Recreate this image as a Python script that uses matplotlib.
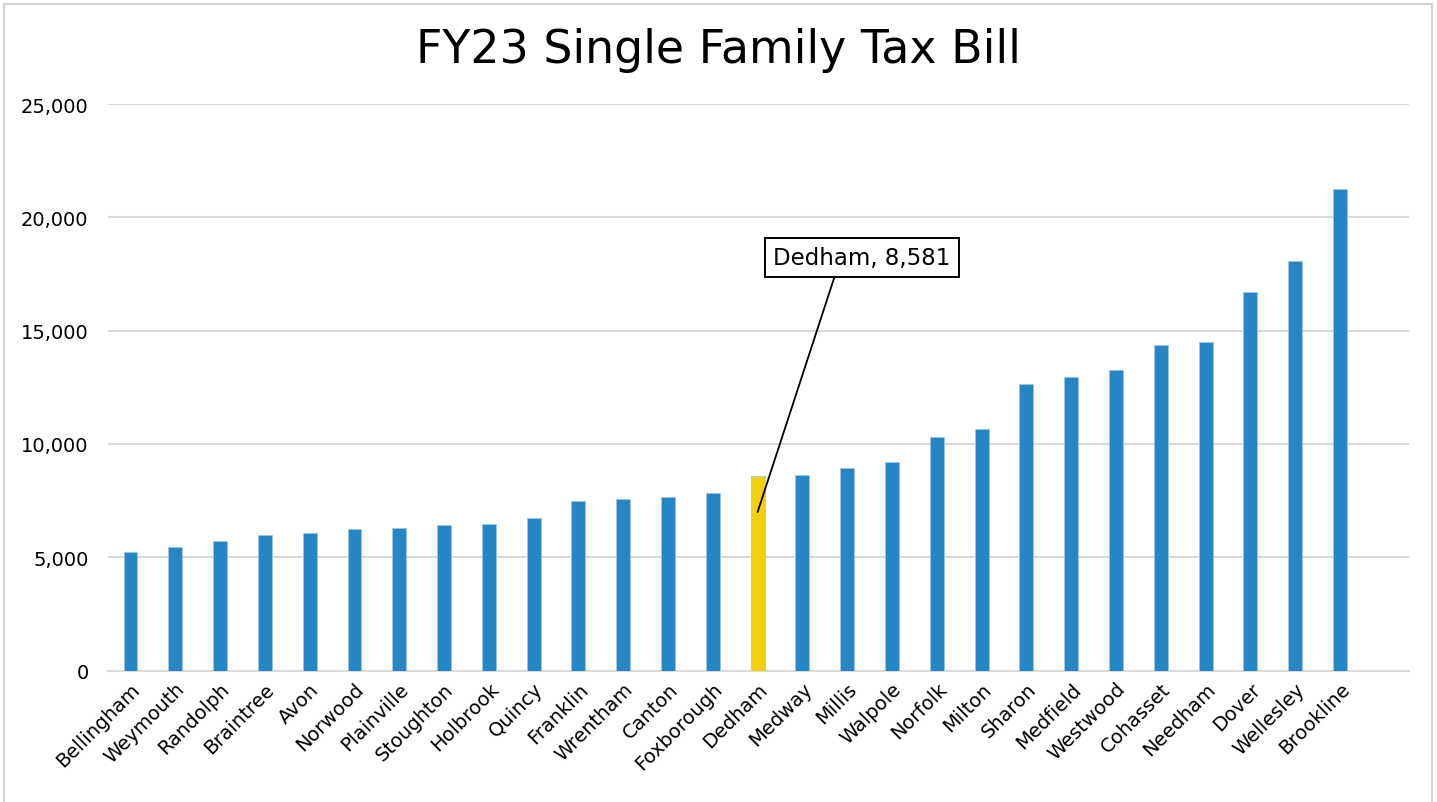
import matplotlib
matplotlib.use("Agg")
import matplotlib.pyplot as plt
from matplotlib.patches import Rectangle
from matplotlib.ticker import FuncFormatter

towns = ["Bellingham", "Weymouth", "Randolph", "Braintree", "Avon", "Norwood",
         "Plainville", "Stoughton", "Holbrook", "Quincy", "Franklin", "Wrentham",
         "Canton", "Foxborough", "Dedham", "Medway", "Millis", "Walpole",
         "Norfolk", "Milton", "Sharon", "Medfield", "Westwood", "Cohasset",
         "Needham", "Dover", "Wellesley", "Brookline"]
tax_bill = [5220, 5450, 5700, 5980, 6080, 6230, 6280, 6410, 6470, 6720, 7470,
            7570, 7660, 7850, 8581, 8610, 8950, 9190, 10290, 10670, 12630,
            12960, 13250, 14350, 14480, 16690, 18070, 21270]
highlight = "Dedham"
y_ticks = [0, 5000, 10000, 15000, 20000, 25000]

plt.rcParams['font.family'] = ['DejaVu Sans']

fig = plt.figure(figsize=(14.37, 8.03), dpi=100)
ax = fig.add_axes([0.0752, 0.1636, 0.9053, 0.7056])

blue = "#2585C5"
yellow = "#F4D00C"
colors = [yellow if t == highlight else blue for t in towns]
x = list(range(len(towns)))
ax.bar(x, tax_bill, width=0.31, color=colors, edgecolor="#9cc8e8", linewidth=0.6, zorder=3)

ax.set_ylim(0, 25000)
ax.set_xlim(-0.5, 28.54)
ax.set_yticks(y_ticks)
ax.yaxis.set_major_formatter(FuncFormatter(lambda v, p: f"{int(v):,}"))
ax.grid(axis="y", color="#d9d9d9", linewidth=1.5, zorder=0)
for s in ["top", "right", "left"]:
    ax.spines[s].set_visible(False)
ax.spines["bottom"].set_color("#d9d9d9")
ax.spines["bottom"].set_linewidth(1.5)
ax.tick_params(axis="both", length=0, labelsize=14, colors="black")
ax.tick_params(axis="y", pad=14)
ax.tick_params(axis="x", pad=6)
ax.set_xticks(x)
ax.set_xticklabels(towns, rotation=45, ha="right", rotation_mode="anchor")

fig.text(0.5, 0.937, "FY23 Single Family Tax Bill", ha="center", va="center", fontsize=33)

i = towns.index(highlight)
ax.annotate(f"{highlight}, {tax_bill[i]:,}", xy=(i, 7000), xytext=(16.33, 18240),
            ha="center", va="center", fontsize=16.5,
            bbox=dict(boxstyle="square,pad=0.35", fc="white", ec="black", lw=1.4),
            arrowprops=dict(arrowstyle="-", color="black", lw=1.3, shrinkA=0, shrinkB=0,
                            relpos=(0.36, 0.0)),
            zorder=5)

fig.patches.append(Rectangle((0.0028, -0.02), 0.9937, 1.0138, transform=fig.transFigure,
                             fill=False, ec="#d4d4d4", lw=1.6))

fig.savefig("out.png", dpi=100, facecolor="white")
